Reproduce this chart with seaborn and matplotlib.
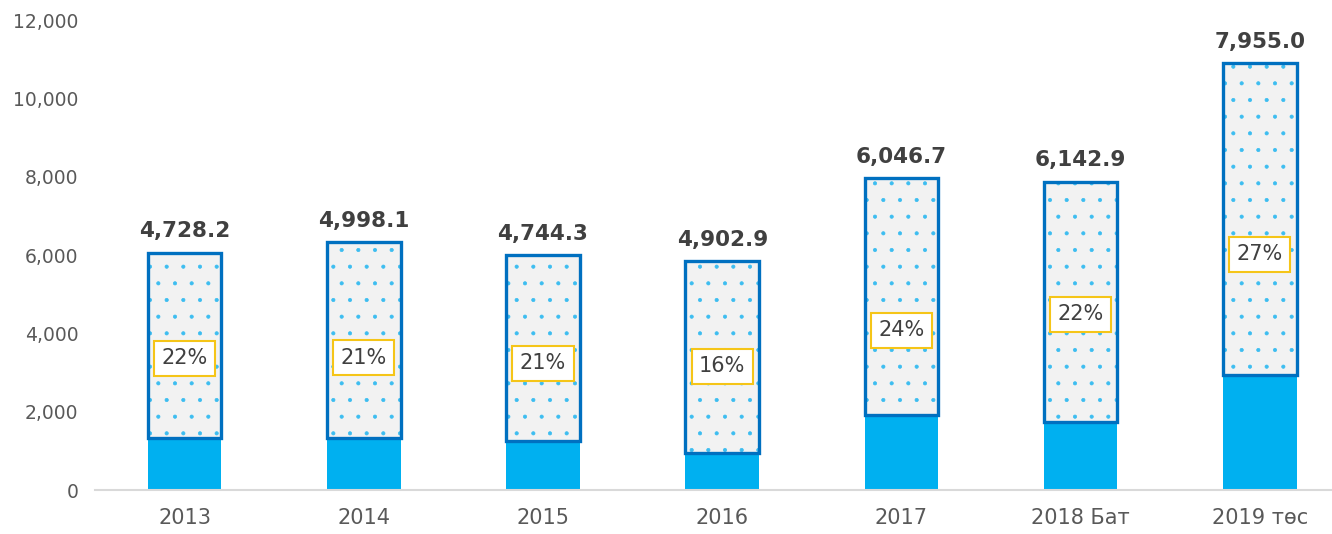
import matplotlib
matplotlib.use('Agg')
import matplotlib.pyplot as plt
import seaborn as sns
import pandas as pd
import numpy as np

# Chart data
years = ['2013', '2014', '2015', '2016', '2017', '2018 Бат', '2019 төс']
base_values = [1335, 1330, 1260, 940, 1910, 1730, 2940]
top_values = [4728.2, 4998.1, 4744.3, 4902.9, 6046.7, 6142.9, 7955.0]
pct_labels = ['22%', '21%', '21%', '16%', '24%', '22%', '27%']
# heights (in data units) where the percent boxes sit
pct_label_y = [3370, 3380, 3240, 3160, 4080, 4490, 6020]

df = pd.DataFrame({'year': years, 'base': base_values, 'top': top_values})

sns.set_theme(style='white')
plt.rcParams['font.family'] = ['DejaVu Sans']
plt.rcParams['hatch.linewidth'] = 0.5

fig = plt.figure(figsize=(13.32, 5.34), dpi=100)
ax = fig.add_axes([95 / 1332, 44 / 534, 7 * 179.2 / 1332, 470 / 534])

bar_w = 0.41

# solid lower segment
sns.barplot(data=df, x='year', y='base', order=years, color='#00B0F0',
            saturation=1, width=bar_w, ax=ax, linewidth=0)

# dotted upper segment, stacked on the lower one
x = np.arange(len(years))
ax.bar(x, df['top'], width=bar_w, bottom=df['base'], color='#F2F2F2',
       edgecolor='#3DBDF0', hatch='.', linewidth=0)
ax.bar(x, df['top'], width=bar_w, bottom=df['base'], fill=False,
       edgecolor='#0070C0', linewidth=2.4)

# value labels above bars
for i, (b, t) in enumerate(zip(base_values, top_values)):
    ax.annotate(f'{t:,.1f}', (i, b + t), xytext=(0, 11), textcoords='offset points',
                ha='center', va='baseline', fontsize=15.5, fontweight='bold',
                color='#404040')

# percent boxes
for i, (lab, yy) in enumerate(zip(pct_labels, pct_label_y)):
    ax.text(i, yy, lab, ha='center', va='center', fontsize=15, color='#404040',
            bbox=dict(boxstyle='square,pad=0.36', facecolor='white',
                      edgecolor='#F5C518', linewidth=1.5))

ax.set_xlim(-0.5, 6.5)
ax.set_ylim(0, 12000)
ax.set_yticks(range(0, 12001, 2000))
ax.set_yticklabels([f'{v:,}' for v in range(0, 12001, 2000)])
ax.set_xlabel('')
ax.set_ylabel('')

for s in ['top', 'right', 'left']:
    ax.spines[s].set_visible(False)
ax.spines['bottom'].set_color('#D9D9D9')
ax.spines['bottom'].set_linewidth(1.5)

ax.tick_params(axis='y', length=0, pad=12, labelsize=13.5, labelcolor='#595959')
ax.tick_params(axis='x', length=0, pad=13, labelsize=15, labelcolor='#595959')
ax.grid(False)

fig.savefig('out.png', dpi=100)
